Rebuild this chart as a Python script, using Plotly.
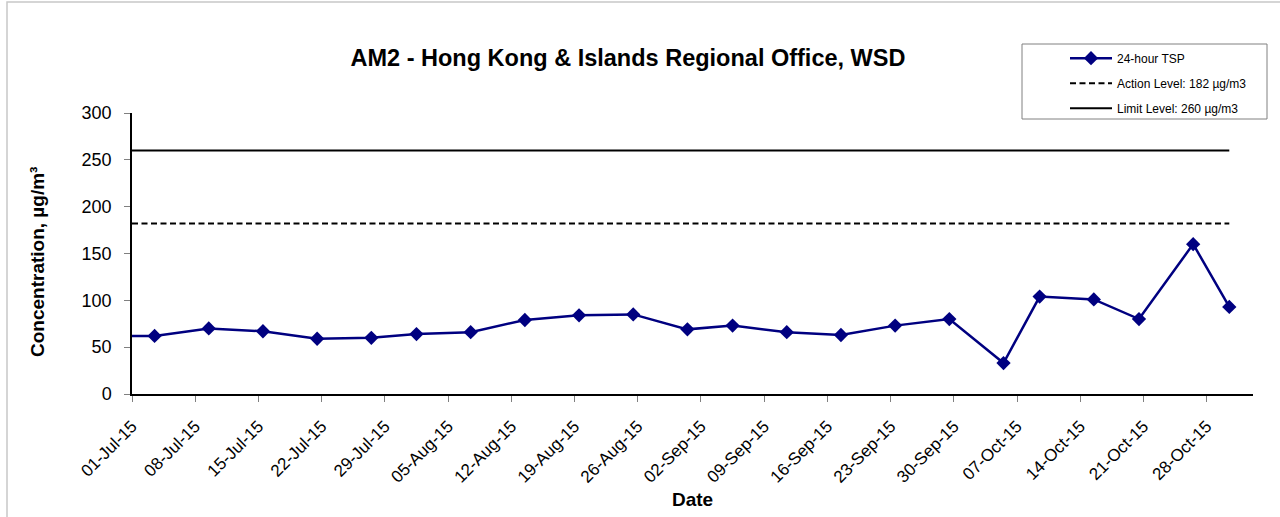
import pandas as pd
import plotly.graph_objects as go

# ---------------- data ----------------
sample_dates = [
    "2015-06-27", "2015-07-03", "2015-07-09", "2015-07-15", "2015-07-21",
    "2015-07-27", "2015-08-01", "2015-08-07", "2015-08-13", "2015-08-19",
    "2015-08-25", "2015-08-31", "2015-09-05", "2015-09-11", "2015-09-17",
    "2015-09-23", "2015-09-29", "2015-10-05", "2015-10-09", "2015-10-15",
    "2015-10-20", "2015-10-26", "2015-10-30",
]
tsp_values = [62, 62, 70, 67, 59, 60, 64, 66, 79, 84, 85, 69, 73, 66, 63,
              73, 80, 33, 104, 101, 80, 160, 93]

ACTION_LEVEL = 182
LIMIT_LEVEL = 260
level_span = ["2015-07-01 00:00", "2015-10-30 12:00"]

x_range = ["2015-07-01 00:00", "2015-11-02 03:00"]
tick_start = "2015-07-01"
y_ticks = [0, 50, 100, 150, 200, 250, 300]

TITLE = "AM2 - Hong Kong & Islands Regional Office, WSD"
Y_TITLE = "Concentration, µg/m³"
X_TITLE = "Date"
SERIES_NAMES = ["24-hour TSP", "Action Level: 182 µg/m3", "Limit Level: 260 µg/m3"]

# ---------------- layout geometry ----------------
W, H = 1280, 517
L, R, T, B = 132, 27, 113, 123
PW, PH = W - L - R, H - T - B


def px_x(px):
    return (px - L) / PW


def px_y(py):
    return (H - B - py) / PH


FONT = "Liberation Sans, Arial, Helvetica, sans-serif"
NAVY = "#000080"

# Excel date axis places points in the middle of each day
x_pts = pd.to_datetime(sample_dates) + pd.Timedelta(hours=12)

fig = go.Figure()
fig.add_trace(go.Scatter(
    x=x_pts, y=tsp_values, mode="lines+markers", name=SERIES_NAMES[0],
    line=dict(color=NAVY, width=2.5),
    marker=dict(symbol="diamond", size=11, color=NAVY),
    legendgroup="a",
))
fig.add_trace(go.Scatter(
    x=pd.to_datetime(level_span), y=[ACTION_LEVEL] * 2, mode="lines",
    name=SERIES_NAMES[1], line=dict(color="black", width=2, dash="6px,3.5px"),
    legendgroup="b",
))
fig.add_trace(go.Scatter(
    x=pd.to_datetime(level_span), y=[LIMIT_LEVEL] * 2, mode="lines",
    name=SERIES_NAMES[2], line=dict(color="black", width=2),
    legendgroup="c",
))

fig.update_layout(
    width=W, height=H,
    margin=dict(l=L, r=R, t=T, b=B),
    paper_bgcolor="white", plot_bgcolor="white",
    font=dict(family=FONT, color="black"),
    title=dict(text="<b>" + TITLE + "</b>", x=628 / W, xref="container", xanchor="center",
               y=1 - 58 / H, yref="container", yanchor="middle",
               font=dict(size=23.5, family=FONT, color="black")),
    showlegend=True,
    legend=dict(x=px_x(1065), y=px_y(43.7), xanchor="left", yanchor="top",
                xref="paper", yref="paper",
                bgcolor="rgba(0,0,0,0)", borderwidth=0,
                font=dict(size=12, family=FONT, color="black"),
                tracegroupgap=6, itemwidth=42, traceorder="grouped"),
    xaxis=dict(
        type="date", range=x_range, tick0=tick_start, dtick=7 * 86400000,
        tickformat="%d-%b-%y", tickangle=-45,
        tickfont=dict(size=17, family=FONT, color="black"),
        ticks="outside", ticklen=6, tickcolor="#808080", tickwidth=1,
        ticklabelstandoff=8,
        showline=True, linecolor="black", linewidth=1.5,
        showgrid=False, zeroline=False, fixedrange=True,
    ),
    yaxis=dict(
        range=[0, 300], tickvals=y_ticks,
        tickfont=dict(size=18, family=FONT, color="black"),
        ticks="outside", ticklen=6, tickcolor="#808080", tickwidth=1,
        ticklabelstandoff=9,
        showline=True, linecolor="black", linewidth=1.5,
        showgrid=False, zeroline=False, fixedrange=True,
    ),
    shapes=[
        # outer chart border
        dict(type="rect", xref="paper", yref="paper",
             x0=px_x(7), x1=px_x(1295), y0=px_y(530), y1=px_y(2),
             line=dict(color="#c8c8c8", width=1.5), fillcolor="rgba(0,0,0,0)", layer="below"),
        # legend frame
        dict(type="rect", xref="paper", yref="paper",
             x0=px_x(1022), x1=px_x(1267), y0=px_y(119), y1=px_y(44),
             line=dict(color="#808080", width=1), fillcolor="rgba(0,0,0,0)", layer="below"),
    ],
    annotations=[
        dict(text="<b>" + Y_TITLE + "</b>", xref="paper", yref="paper",
             x=px_x(37), y=px_y(262), textangle=-90, showarrow=False,
             xanchor="center", yanchor="middle",
             font=dict(size=19, family=FONT, color="black")),
        dict(text="<b>" + X_TITLE + "</b>", xref="paper", yref="paper",
             x=px_x(692), y=px_y(500), showarrow=False,
             xanchor="center", yanchor="middle",
             font=dict(size=19, family=FONT, color="black")),
    ],
)

fig.write_html(
    "out.html",
    config={"displayModeBar": False},
    post_script="document.body.style.margin='0';document.body.style.overflow='hidden';",
)
